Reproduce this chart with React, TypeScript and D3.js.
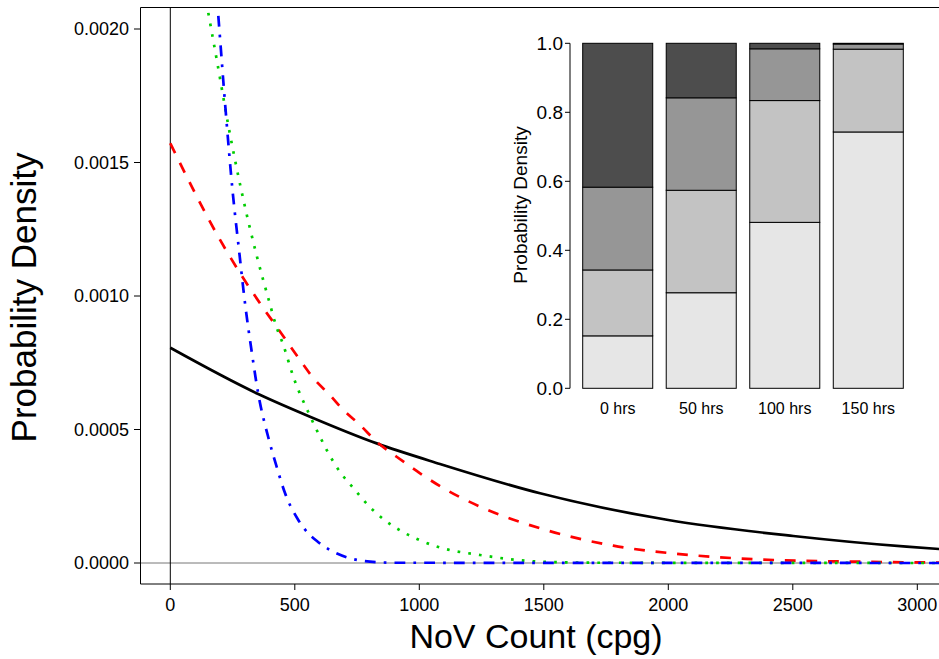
import React from "react";
import * as d3 from "d3";

// ---------- main chart data ----------
const xTicks = [0, 500, 1000, 1500, 2000, 2500, 3000];
const yTicks = [0, 0.0005, 0.001, 0.0015, 0.002];
const yTickLabels = ["0.0000", "0.0005", "0.0010", "0.0015", "0.0020"];

// black solid curve
const blackX = [0, 353, 561, 829, 1083, 1485, 2000, 2502, 2957, 3087, 3200];
const blackY = [0.000806, 0.000633, 0.000548, 0.000448, 0.000371, 0.000261, 0.000161, 0.000101, 0.000061, 0.0000524, 0.000046];

// red dashed curve
const redX = [0, 200, 374, 427, 521, 575, 641, 695, 762, 829, 909, 1003, 1090, 1244, 1485, 1779, 2087, 2422, 2757, 3200];
const redY = [0.001572, 0.00121, 0.000954, 0.000885, 0.00076, 0.000692, 0.000629, 0.000573, 0.000517, 0.000454, 0.000398, 0.000336, 0.000284, 0.000211, 0.00013, 0.0000648, 0.00003, 0.0000112, 0.000005, 0.000001];

// green dotted curve
const greenX = [130, 151, 189, 234, 285, 344, 400, 424, 454, 494, 561, 598, 637, 681, 736, 791, 856, 925, 1000, 1083, 1244, 1485, 1700, 3200];
const greenY = [0.00218, 0.002069, 0.001872, 0.001634, 0.001397, 0.001162, 0.00097, 0.000891, 0.000816, 0.000698, 0.000551, 0.000479, 0.000408, 0.000342, 0.00028, 0.00022, 0.000164, 0.000121, 0.0000861, 0.000058, 0.00003, 0.000005, 0.000001, 0];

// blue dot-dash curve
const blueX = [180, 192, 222, 251, 276, 300, 327, 353, 394, 427, 461, 514, 554, 592, 641, 722, 802, 900, 3200];
const blueY = [0.0022, 0.002059, 0.001697, 0.001385, 0.001172, 0.000973, 0.000791, 0.000635, 0.000469, 0.000361, 0.000261, 0.000161, 0.000111, 0.0000798, 0.0000487, 0.0000176, 0.000005, 0.000001, 0];

// ---------- inset data ----------
const insetHours = ["0 hrs", "50 hrs", "100 hrs", "150 hrs"];
const insetLevels = ["L1", "L2", "L3", "L4"]; // bottom -> top
const insetL1 = [0.152, 0.277, 0.481, 0.743];
const insetL2 = [0.191, 0.297, 0.353, 0.24];
const insetL3 = [0.24, 0.268, 0.15, 0.015];
const insetL4 = [0.417, 0.158, 0.016, 0.002];
const insetFills = ["#E6E6E6", "#C3C3C3", "#969696", "#4D4D4D"];
const insetTicks = [0, 0.2, 0.4, 0.6, 0.8, 1.0];

const FONT = "'Liberation Sans', Arial, Helvetica, sans-serif";

export default function App() {
  const W = 939;
  const H = 659;

  // main panel
  const pLeft = 140.5;
  const pTop = 7.5;
  const pBottom = 584;
  const pRight = 960;

  const x = d3.scaleLinear().domain([0, 3000]).range([170.3, 917.3]);
  const y = d3.scaleLinear().domain([0, 0.002]).range([563, 29]);

  const mk = (xs: number[], ys: number[]) =>
    d3
      .line<number>()
      .x((_, i) => x(xs[i]))
      .y((_, i) => y(ys[i]))
      .curve(d3.curveMonotoneX)(xs) || "";

  const series = [
    { d: mk(blackX, blackY), color: "#000000", dash: "none" },
    { d: mk(redX, redY), color: "#FF0000", dash: "10.8,10.8" },
    { d: mk(greenX, greenY), color: "#00CD00", dash: "2.7,8.1" },
    { d: mk(blueX, blueY), color: "#0000FF", dash: "2.7,8.1,10.8,8.1" },
  ];

  // inset scales
  const ix = d3.scaleBand().domain(insetHours).range([582.7, 903.3]).paddingInner(0.1617).paddingOuter(0);
  const iy = d3.scaleLinear().domain([0, 1]).range([388.3, 43.3]);

  const rows = insetHours.map((h, i) => ({
    hour: h,
    L1: insetL1[i],
    L2: insetL2[i],
    L3: insetL3[i],
    L4: insetL4[i],
  }));
  const stacked = d3.stack<any>().keys(insetLevels)(rows);

  return (
    <svg
      width={W}
      height={H}
      style={{ position: "absolute", left: 0, top: 0, background: "#fff" }}
      fontFamily={FONT}
    >
      <defs>
        <clipPath id="panelClip">
          <rect x={pLeft} y={pTop} width={pRight - pLeft} height={pBottom - pTop} />
        </clipPath>
      </defs>
      <rect x={0} y={0} width={W} height={H} fill="#fff" />

      {/* reference lines */}
      <g clipPath="url(#panelClip)">
        <line x1={pLeft} x2={pRight} y1={y(0)} y2={y(0)} stroke="#777" strokeWidth={1} />
        <line x1={x(0)} x2={x(0)} y1={pTop} y2={pBottom} stroke="#000" strokeWidth={1} />
        {series.map((s, i) => (
          <path
            key={i}
            d={s.d}
            fill="none"
            stroke={s.color}
            strokeWidth={2.7}
            strokeDasharray={s.dash}
            strokeLinecap="butt"
          />
        ))}
      </g>

      {/* panel border */}
      <path
        d={`M${pRight},${pTop}H${pLeft}V${pBottom}H${pRight}`}
        fill="none"
        stroke="#000"
        strokeWidth={1}
      />

      {/* y axis ticks */}
      {yTicks.map((t, i) => (
        <g key={"yt" + i}>
          <line x1={134} x2={pLeft} y1={y(t)} y2={y(t)} stroke="#000" strokeWidth={1} />
          <text x={129} y={y(t)} dy="0.35em" textAnchor="end" fontSize={18} fill="#000">
            {yTickLabels[i]}
          </text>
        </g>
      ))}

      {/* x axis ticks */}
      {xTicks.map((t, i) => (
        <g key={"xt" + i}>
          <line x1={x(t)} x2={x(t)} y1={pBottom} y2={pBottom + 6} stroke="#000" strokeWidth={1} />
          <text x={x(t)} y={611} textAnchor="middle" fontSize={18} fill="#000">
            {String(t)}
          </text>
        </g>
      ))}

      {/* axis titles */}
      <text x={536} y={648} textAnchor="middle" fontSize={34} fill="#000">
        NoV Count (cpg)
      </text>
      <text
        transform={`translate(36,297.5) rotate(-90)`}
        textAnchor="middle"
        fontSize={35}
        fill="#000"
      >
        Probability Density
      </text>

      {/* ---------- inset ---------- */}
      <g>
        {stacked.map((layer, li) => (
          <g key={"layer" + li} fill={insetFills[li]}>
            {layer.map((seg, si) => (
              <rect
                key={si}
                x={ix(insetHours[si])}
                y={iy(seg[1])}
                width={ix.bandwidth()}
                height={iy(seg[0]) - iy(seg[1])}
                stroke="#000"
                strokeWidth={1}
              />
            ))}
          </g>
        ))}
        <line x1={570} x2={570} y1={iy(1)} y2={iy(0)} stroke="#000" strokeWidth={1} />
        {insetTicks.map((t, i) => (
          <g key={"it" + i}>
            <line x1={565} x2={570} y1={iy(t)} y2={iy(t)} stroke="#000" strokeWidth={1} />
            <text x={563} y={iy(t)} dy="0.35em" textAnchor="end" fontSize={19} fill="#000">
              {t.toFixed(1)}
            </text>
          </g>
        ))}
        {insetHours.map((h) => (
          <text
            key={h}
            x={(ix(h) || 0) + ix.bandwidth() / 2}
            y={414}
            textAnchor="middle"
            fontSize={16}
            fill="#000"
          >
            {h}
          </text>
        ))}
        <text
          transform={`translate(527,205) rotate(-90)`}
          textAnchor="middle"
          fontSize={19}
          fill="#000"
        >
          Probability Density
        </text>
      </g>
    </svg>
  );
}
